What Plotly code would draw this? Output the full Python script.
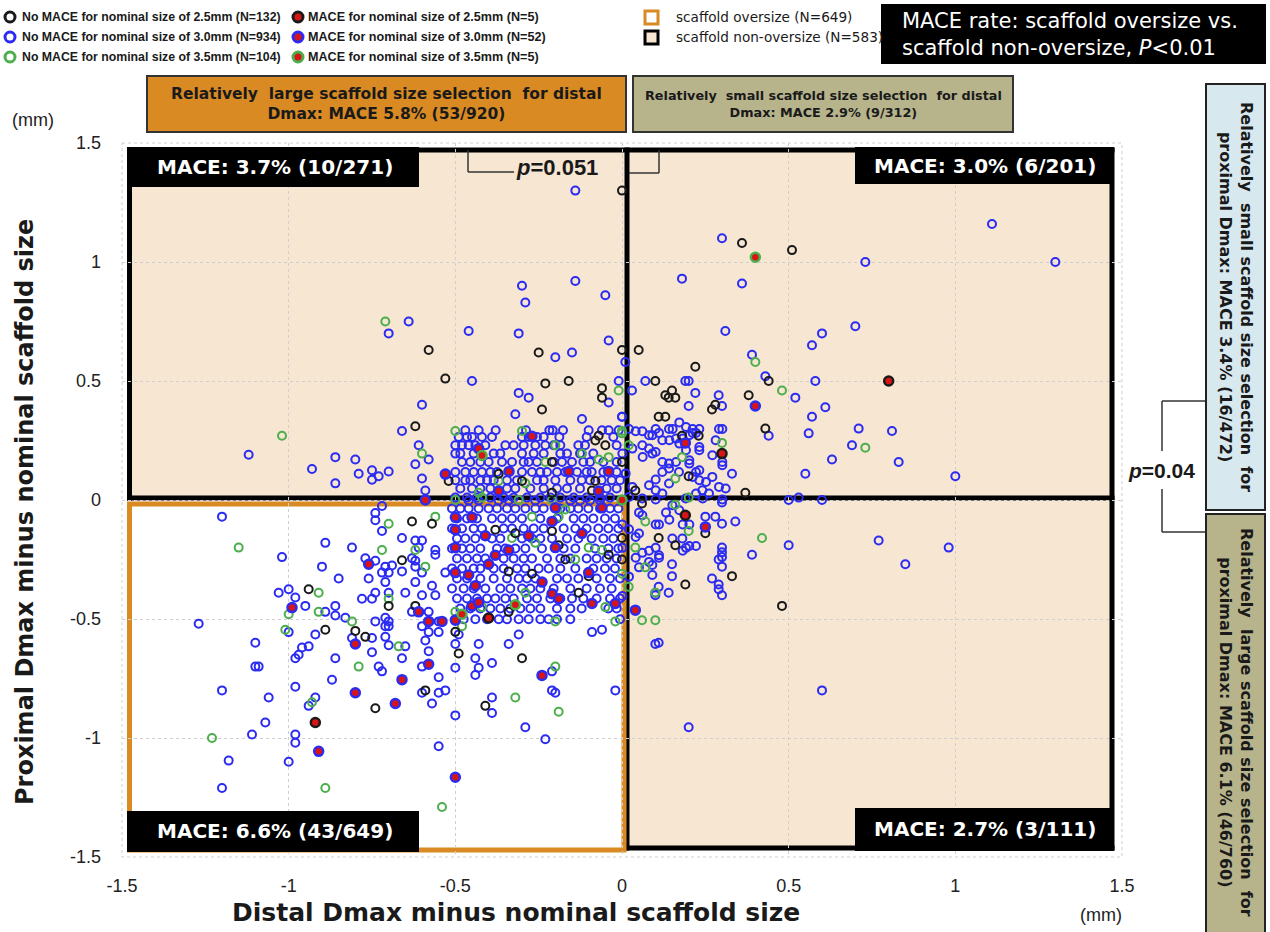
import plotly.graph_objects as go

# ---------------- data ----------------
NO_MACE_30 = [
    # upper-left sparse
    (-0.14,1.30),(-0.30,0.90),(-0.14,0.92),(-0.29,0.83),(-0.05,0.86),(-0.64,0.75),(-0.70,0.70),(-0.46,0.71),
    (-0.31,0.70),(-0.04,0.67),(-0.20,0.60),(-0.15,0.62),(-0.45,0.50),(-0.01,0.50),(-0.31,0.45),(-0.28,0.43),
    (-0.04,0.41),(-0.60,0.40),(-0.32,0.36),(-0.12,0.34),(0.0,0.35),(-0.66,0.29),(-1.12,0.19),(-0.93,0.13),
    (-0.86,0.18),(-0.80,0.17),(-0.86,0.07),(-0.79,0.11),(-0.75,0.125),(-0.75,0.085),(-0.73,0.10),(-0.70,0.12),
    (-0.61,0.23),(-0.62,0.15),(-0.58,0.17),(-0.60,0.09),(-0.59,0.04),
    # upper-left cluster
    (-0.470,0.293),(-0.430,0.293),(-0.379,0.293),(-0.288,0.293),(-0.218,0.293),(-0.208,0.293),(-0.177,0.293),
    (-0.100,0.293),(-0.060,0.293),(-0.040,0.293),(-0.010,0.293),
    (-0.490,0.265),(-0.465,0.265),(-0.450,0.265),(-0.420,0.265),(-0.390,0.265),(-0.300,0.265),(-0.280,0.265),
    (-0.255,0.265),(-0.235,0.265),(-0.188,0.265),(-0.106,0.265),(-0.026,0.265),
    (-0.500,0.230),(-0.480,0.230),(-0.460,0.230),(-0.440,0.230),(-0.410,0.230),(-0.350,0.230),(-0.325,0.230),
    (-0.295,0.230),(-0.260,0.230),(-0.230,0.230),(-0.205,0.230),(-0.185,0.230),(-0.131,0.230),(-0.111,0.230),
    (-0.016,0.230),
    (-0.500,0.195),(-0.485,0.195),(-0.445,0.195),(-0.385,0.195),(-0.365,0.195),(-0.300,0.195),(-0.265,0.195),
    (-0.235,0.195),(-0.185,0.195),(-0.165,0.195),(-0.126,0.195),(-0.086,0.195),
    (-0.480,0.160),(-0.455,0.160),(-0.425,0.160),(-0.400,0.160),(-0.360,0.160),(-0.330,0.160),(-0.295,0.160),
    (-0.280,0.160),(-0.255,0.160),(-0.205,0.160),(-0.180,0.160),(-0.150,0.160),(-0.116,0.160),(-0.096,0.160),
    (-0.056,0.160),(-0.016,0.160),
    (-0.500,0.118),(-0.470,0.118),(-0.445,0.118),(-0.420,0.118),(-0.395,0.118),(-0.375,0.118),(-0.300,0.118),
    (-0.270,0.118),(-0.245,0.118),(-0.225,0.118),(-0.195,0.118),(-0.170,0.118),(-0.135,0.118),(-0.106,0.118),
    (-0.091,0.118),(-0.056,0.118),(-0.016,0.118),
    (-0.500,0.083),(-0.470,0.083),(-0.455,0.083),(-0.425,0.083),(-0.405,0.083),(-0.385,0.083),(-0.345,0.083),
    (-0.315,0.083),(-0.255,0.083),(-0.235,0.083),(-0.200,0.083),(-0.155,0.083),(-0.121,0.083),(-0.096,0.083),
    (-0.061,0.083),(-0.031,0.083),(-0.006,0.083),
    (-0.485,0.048),(-0.450,0.048),(-0.425,0.048),(-0.395,0.048),(-0.345,0.048),(-0.320,0.048),(-0.275,0.048),
    (-0.235,0.048),(-0.195,0.048),(-0.165,0.048),(-0.126,0.048),(-0.046,0.048),(-0.016,0.048),
    (-0.500,0.010),(-0.465,0.010),(-0.435,0.010),(-0.395,0.010),(-0.355,0.010),(-0.325,0.010),(-0.285,0.010),
    (-0.245,0.010),(-0.215,0.010),(-0.185,0.010),(-0.145,0.010),(-0.106,0.010),(-0.066,0.010),(-0.036,0.010),
    # upper-right sparse
    (1.11,1.16),(1.30,1.00),(0.73,1.00),(0.30,1.10),(0.18,0.93),(0.36,0.91),(0.31,0.71),(0.70,0.73),(0.60,0.70),
    (0.57,0.65),(0.01,0.58),(0.39,0.61),(0.43,0.52),(0.58,0.50),(0.07,0.50),(0.19,0.50),(0.20,0.50),(0.52,0.43),
    (0.03,0.46),(0.22,0.45),(0.20,0.395),(0.29,0.44),(0.30,0.395),(0.61,0.39),(0.57,0.35),(0.0,0.35),(0.44,0.27),
    (0.56,0.28),(0.71,0.30),(0.81,0.29),(0.69,0.23),(0.63,0.17),(0.83,0.16),(0.55,0.11),(1.00,0.10),(0.33,0.11),
    # upper-right cluster
    (0.021,0.298),(0.041,0.289),(0.061,0.289),(0.081,0.272),(0.101,0.298),(0.111,0.282),(0.141,0.298),(0.152,0.298),
    (0.172,0.326),(0.192,0.307),(0.212,0.298),(0.232,0.298),(0.212,0.282),(0.222,0.282),(0.202,0.272),(0.182,0.258),
    (0.142,0.251),(0.162,0.258),(0.121,0.251),(0.091,0.272),(0.061,0.230),(0.081,0.216),(0.101,0.202),(0.091,0.195),
    (0.062,0.181),(0.031,0.216),(0.001,0.195),(0.121,0.160),(0.141,0.153),(0.162,0.160),(0.141,0.132),(0.121,0.118),
    (0.171,0.118),(0.222,0.118),(0.232,0.125),(0.212,0.097),(0.232,0.083),(0.252,0.076),(0.271,0.097),(0.281,0.251),
    (0.291,0.298),(0.301,0.298),(0.271,0.188),(0.301,0.160),(0.301,0.146),(0.101,0.086),(0.081,0.062),(0.101,0.041),
    (0.121,0.027),(0.141,0.069),(0.031,0.055),(0.011,0.111),(0.021,0.013),(0.241,0.041),(0.261,0.027),(0.291,0.055),
    (0.311,0.048),(0.222,0.027),(0.191,0.006),(0.242,0.006),(0.301,0.002),(0.061,0.006),(0.101,0.002),(0.202,0.167),
    (0.202,0.153),(0.232,0.209),(0.232,0.223),(0.172,0.237),(0.192,0.209),
    # lower-left sparse
    (-1.20,-0.07),(-1.02,-0.24),(-1.27,-0.52),(-1.03,-0.39),(-1.0,-0.375),(-0.98,-0.41),(-0.95,-0.445),(-0.89,-0.47),
    (-1.0,-0.555),(-0.92,-0.565),(-1.10,-0.60),(-1.10,-0.70),(-1.09,-0.70),(-0.98,-0.665),(-0.97,-0.65),(-0.96,-0.62),
    (-0.94,-0.615),(-0.86,-0.665),(-1.20,-0.80),(-1.06,-0.83),(-0.98,-0.785),(-0.92,-0.83),(-0.94,-0.865),(-0.87,-0.755),
    (-1.07,-0.935),(-1.11,-0.985),(-0.98,-0.985),(-0.98,-1.02),(-1.18,-1.095),(-1.0,-1.10),(-1.20,-1.21),(-0.55,-1.035),
    (-0.23,-1.005),(-0.29,-0.955),(-0.39,-0.895),(-0.50,-0.905),(-0.39,-0.83),(-0.21,-0.80),(-0.20,-0.81),(-0.02,-0.80),
    (-0.21,-0.72),(-0.44,-0.665),(-0.44,-0.735),(-0.43,-0.705),(-0.39,-0.685),(-0.50,-0.705),(-0.31,-0.565),(-0.34,-0.605),
    (-0.43,-0.605),(-0.09,-0.555),(-0.06,-0.545),(-0.55,-0.745),(-0.53,-0.80),(-0.55,-0.81),(-0.57,-0.855),(-0.60,-0.81),
    (-0.73,-0.70),(-0.72,-0.72),(-0.60,-0.70),(-0.81,-0.58),(-0.75,-0.64),(-0.70,-0.61),(-0.66,-0.665),(-0.58,-0.635),
    (-0.50,-0.605),(-0.49,-0.565),
    (-0.89,-0.18),(-0.81,-0.20),(-0.90,-0.28),(-0.85,-0.33),(-0.77,-0.245),(-0.74,-0.255),(-0.76,-0.33),(-0.71,-0.28),
    (-0.72,-0.305),(-0.70,-0.305),(-0.71,-0.345),(-0.74,-0.39),(-0.78,-0.415),(-0.75,-0.415),(-0.70,-0.39),(-0.86,-0.445),
    (-0.83,-0.495),(-0.86,-0.485),(-0.74,-0.51),(-0.71,-0.495),(-0.70,-0.51),(-0.71,-0.53),(-0.70,-0.53),(-0.75,-0.58),
    (-0.71,-0.575),(-0.65,-0.615),(-0.66,-0.16),(-0.72,-0.13),(-0.74,-0.055),(-0.74,-0.085),(-0.72,-0.025),(-0.69,-0.275),
    (-0.66,-0.30),(-0.63,-0.245),(-0.62,-0.28),(-0.60,-0.305),(-0.62,-0.345),(-0.60,-0.40),(-0.57,-0.36),(-0.56,-0.40),
    (-0.65,-0.39),(-0.63,-0.47),(-0.58,-0.47),(-0.60,-0.53),(-0.58,-0.555),(-0.55,-0.555),(-0.59,-0.59),(-0.55,-0.51),
    (-0.62,-0.17),(-0.60,-0.17),(-0.61,-0.20),(-0.56,-0.21),(-0.56,-0.23),(-0.53,-0.305),(-0.62,-0.255),
    # lower-left cluster
    (-0.460,-0.002),(-0.430,-0.002),(-0.370,-0.002),(-0.340,-0.002),(-0.260,-0.002),(-0.155,-0.002),(-0.126,-0.002),
    (-0.096,-0.002),(-0.066,-0.002),
    (-0.510,-0.036),(-0.485,-0.036),(-0.460,-0.036),(-0.430,-0.036),(-0.400,-0.036),(-0.375,-0.036),(-0.345,-0.036),
    (-0.320,-0.036),(-0.290,-0.036),(-0.260,-0.036),(-0.235,-0.036),(-0.185,-0.036),(-0.155,-0.036),(-0.131,-0.036),
    (-0.101,-0.036),(-0.066,-0.036),(-0.036,-0.036),(-0.011,-0.036),
    (-0.495,-0.078),(-0.465,-0.078),(-0.435,-0.078),(-0.390,-0.078),(-0.360,-0.078),(-0.330,-0.078),(-0.300,-0.078),
    (-0.245,-0.078),(-0.195,-0.078),(-0.145,-0.078),(-0.116,-0.078),(-0.086,-0.078),(-0.051,-0.078),(-0.021,-0.078),
    (-0.510,-0.120),(-0.480,-0.120),(-0.445,-0.120),(-0.420,-0.120),(-0.355,-0.120),(-0.330,-0.120),(-0.295,-0.120),
    (-0.265,-0.120),(-0.235,-0.120),(-0.175,-0.120),(-0.140,-0.120),(-0.106,-0.120),(-0.071,-0.120),(-0.041,-0.120),
    (-0.011,-0.120),
    (-0.495,-0.162),(-0.470,-0.162),(-0.440,-0.162),(-0.390,-0.162),(-0.365,-0.162),(-0.300,-0.162),(-0.270,-0.162),
    (-0.245,-0.162),(-0.210,-0.162),(-0.165,-0.162),(-0.131,-0.162),(-0.091,-0.162),(-0.056,-0.162),(-0.026,-0.162),
    (-0.510,-0.204),(-0.480,-0.204),(-0.455,-0.204),(-0.425,-0.204),(-0.375,-0.204),(-0.350,-0.204),(-0.320,-0.204),
    (-0.290,-0.204),(-0.240,-0.204),(-0.175,-0.204),(-0.140,-0.204),(-0.081,-0.204),(-0.041,-0.204),(-0.011,-0.204),
    (-0.495,-0.246),(-0.465,-0.246),(-0.435,-0.246),(-0.410,-0.246),(-0.355,-0.246),(-0.325,-0.246),(-0.295,-0.246),
    (-0.270,-0.246),(-0.225,-0.246),(-0.185,-0.246),(-0.155,-0.246),(-0.106,-0.246),(-0.076,-0.246),(-0.046,-0.246),
    (-0.016,-0.246),
    (-0.510,-0.288),(-0.480,-0.288),(-0.445,-0.288),(-0.425,-0.288),(-0.385,-0.288),(-0.355,-0.288),(-0.315,-0.288),
    (-0.290,-0.288),(-0.250,-0.288),(-0.220,-0.288),(-0.185,-0.288),(-0.140,-0.288),(-0.086,-0.288),(-0.051,-0.288),
    (-0.021,-0.288),
    (-0.495,-0.330),(-0.465,-0.330),(-0.425,-0.330),(-0.385,-0.330),(-0.345,-0.330),(-0.310,-0.330),(-0.285,-0.330),
    (-0.260,-0.330),(-0.195,-0.330),(-0.165,-0.330),(-0.131,-0.330),(-0.076,-0.330),(-0.036,-0.330),(-0.006,-0.330),
    (-0.510,-0.372),(-0.475,-0.372),(-0.445,-0.372),(-0.410,-0.372),(-0.365,-0.372),(-0.335,-0.372),(-0.300,-0.372),
    (-0.275,-0.372),(-0.245,-0.372),(-0.205,-0.372),(-0.155,-0.372),(-0.106,-0.372),(-0.066,-0.372),(-0.031,-0.372),
    (-0.495,-0.414),(-0.465,-0.414),(-0.435,-0.414),(-0.405,-0.414),(-0.380,-0.414),(-0.350,-0.414),(-0.325,-0.414),
    (-0.285,-0.414),(-0.255,-0.414),(-0.215,-0.414),(-0.185,-0.414),(-0.150,-0.414),(-0.116,-0.414),(-0.076,-0.414),
    (-0.036,-0.414),(-0.006,-0.414),
    (-0.485,-0.456),(-0.455,-0.456),(-0.425,-0.456),(-0.395,-0.456),(-0.365,-0.456),(-0.335,-0.456),(-0.305,-0.456),
    (-0.275,-0.456),(-0.245,-0.456),(-0.195,-0.456),(-0.155,-0.456),(-0.121,-0.456),(-0.041,-0.456),(-0.016,-0.456),
    (-0.500,-0.501),(-0.475,-0.501),(-0.440,-0.501),(-0.405,-0.501),(-0.370,-0.501),(-0.345,-0.501),(-0.310,-0.501),
    (-0.280,-0.501),(-0.245,-0.501),(-0.220,-0.501),(-0.195,-0.501),(-0.155,-0.501),(-0.006,-0.501),
    # lower-right
    (0.77,-0.17),(0.98,-0.20),(0.85,-0.27),(0.50,-0.19),(0.39,-0.23),(0.60,-0.80),(0.20,-0.955),(0.10,-0.605),
    (0.11,-0.60),(0.34,-0.09),(0.30,-0.10),(0.28,-0.07),(0.25,-0.07),(0.30,-0.20),(0.30,-0.22),(0.30,-0.24),
    (0.29,-0.25),(0.30,-0.28),(0.27,-0.33),(0.29,-0.355),(0.29,-0.375),(0.30,-0.40),(0.15,-0.27),(0.15,-0.32),
    (0.14,-0.39),(0.11,-0.365),(0.10,-0.40),(0.10,-0.39),
    (0.091,-0.315),(0.081,-0.26),(0.091,-0.273),(0.111,-0.243),(0.111,-0.232),(0.051,-0.283),(0.061,-0.222),
    (0.081,-0.213),(0.101,-0.201),(0.151,-0.162),(0.181,-0.162),(0.182,-0.213),(0.192,-0.201),(0.202,-0.193),
    (0.222,-0.193),(0.182,-0.103),(0.202,-0.103),(0.142,-0.083),(0.132,-0.053),(0.172,-0.043),(0.151,-0.022),
    (0.051,-0.053),(0.061,-0.064),(0.111,-0.103),(0.101,-0.103),(0.001,-0.103),(0.021,-0.123),(0.001,-0.201),
    (0.051,-0.141),(0.041,-0.155),(0.041,-0.243),(0.021,-0.322),(0.001,-0.403),
    (0.50,0.0),(0.53,0.01),(0.60,0.0),(0.30,-0.01),
]

NO_MACE_25 = [
    (0.0,1.30),(-0.58,0.63),(-0.25,0.62),(0.0,0.63),(-0.53,0.51),(-0.23,0.49),(-0.16,0.50),(-0.06,0.47),
    (-0.06,0.43),(-0.24,0.38),(-0.62,0.31),(0.36,1.08),(0.51,1.05),(0.05,0.63),(0.22,0.56),(0.44,0.50),
    (0.10,0.50),(0.15,0.46),(0.13,0.44),(0.14,0.43),(0.16,0.43),(0.38,0.44),(0.28,0.40),(0.27,0.38),
    (0.11,0.35),(0.13,0.35),(0.43,0.30),(0.37,0.03),
    (-0.07,0.27),(-0.08,0.25),(-0.05,0.23),(-0.21,0.16),(-0.37,0.11),(-0.52,0.08),(-0.30,0.08),(-0.08,0.08),
    (-0.21,0.03),(-0.09,0.04),(0.0,0.16),(0.20,0.10),(0.04,0.04),(0.23,0.27),(0.18,0.27),
    (-0.94,-0.375),(-0.89,-0.545),(-0.80,-0.55),(-0.77,-0.575),(-0.74,-0.875),(-0.59,-0.80),(-0.41,-0.865),
    (-0.30,-0.665),(-0.49,-0.645),(-0.50,-0.554),(-0.34,-0.47),(-0.13,-0.39),(-0.38,-0.125),(-0.32,-0.14),
    (-0.21,-0.13),(-0.19,-0.19),(-0.17,-0.25),(-0.34,-0.30),(-0.10,-0.32),(-0.27,-0.31),(-0.04,-0.23),
    (0.0,-0.16),(-0.66,-0.253),(-0.63,-0.09),(-0.57,-0.10),(-0.70,-0.445),(-0.62,-0.445),(0.48,-0.445),
    (0.33,-0.32),(0.19,-0.355),(0.25,-0.14),(0.11,-0.16),(0.16,-0.19),(0.06,-0.015),(0.0,-0.25),
]

NO_MACE_35 = [
    (-0.71,0.75),(-1.02,0.27),(-0.60,0.195),(-0.01,0.46),(0.40,0.58),(0.48,0.46),(0.73,0.22),(-0.50,0.29),
    (-0.30,0.29),(-0.20,0.23),(-0.23,0.16),(-0.12,0.195),(-0.07,0.17),(-0.04,0.18),(0.0,0.28),(-0.37,0.08),
    (-0.29,0.07),(-0.43,0.03),(-0.42,0.01),(0.0,0.29),(0.30,0.24),(0.18,0.18),(0.16,0.09),(0.20,0.01),(0.02,0.23),
    (-1.15,-0.20),(-0.91,-0.39),(-1.0,-0.48),(-1.01,-0.545),(-0.91,-0.47),(-1.23,-1.0),(-0.93,-0.85),(-0.89,-1.21),
    (-0.54,-1.29),(-0.19,-0.89),(-0.32,-0.83),(-0.20,-0.70),(-0.79,-0.70),(-0.67,-0.615),(-0.48,-0.53),(-0.70,-0.10),
    (-0.56,-0.07),(-0.72,-0.21),(-0.62,-0.21),(-0.59,-0.28),(-0.70,-0.415),(-0.81,-0.51),(-0.33,-0.16),(-0.26,-0.18),
    (-0.10,-0.20),(-0.06,-0.21),(-0.19,-0.07),(-0.17,-0.04),(-0.31,0.0),(-0.21,0.0),(-0.50,0.0),(-0.27,-0.07),
    (-0.02,-0.51),(-0.05,-0.45),(-0.20,-0.51),(-0.29,-0.39),(-0.50,-0.47),(-0.42,-0.45),(-0.14,-0.25),(0.0,-0.31),
    (0.42,-0.16),(0.06,-0.505),(0.10,-0.505),(0.04,-0.20),(0.07,-0.09),(0.02,-0.365),(0.07,-0.283),(0.10,-0.39),
    (0.16,-0.02),(0.20,-0.13),
]

MACE_25 = [(0.80,0.50),(0.30,0.195),(-0.92,-0.935),(-0.40,-0.496),(0.19,-0.064)]

MACE_35 = [(0.40,1.02),(-0.42,0.187),(-0.32,-0.44),(-0.48,-0.48),(0.0,0.0)]

MACE_30 = [
    (-0.53,0.109),(-0.27,0.268),(-0.43,0.216),(-0.339,0.12),(-0.16,0.12),(-0.04,0.12),(-0.37,0.038),(-0.07,0.038),
    (0.40,0.395),(0.19,0.24),
    (-0.99,-0.452),(-0.91,-1.056),(-0.50,-1.165),(-0.24,-0.737),(-0.68,-0.855),(-0.80,-0.81),(-0.66,-0.755),
    (-0.58,-0.69),(-0.80,-0.605),(-0.19,-0.415),(-0.09,-0.435),(-0.02,-0.435),(-0.21,-0.394),(-0.24,-0.345),
    (-0.10,-0.305),(-0.44,-0.36),(-0.45,-0.445),(-0.43,-0.43),(-0.46,-0.315),(-0.50,-0.305),(-0.40,-0.27),
    (-0.38,-0.232),(-0.34,-0.21),(-0.50,-0.20),(-0.41,-0.15),(-0.50,-0.125),(-0.50,-0.073),(-0.45,-0.073),
    (-0.20,-0.20),(-0.21,-0.09),(-0.12,-0.14),(-0.20,-0.033),(-0.06,-0.033),(-0.76,-0.27),(-0.61,-0.47),
    (-0.58,-0.51),(-0.54,-0.51),(-0.50,-0.505),(-0.59,0.0),(0.25,-0.113),(0.04,-0.463),(-0.28,-0.15),
]

TICK_VALS = [-1.5, -1, -0.5, 0, 0.5, 1, 1.5]
TICK_TEXT = ["-1.5", "-1", "-0.5", "0", "0.5", "1", "1.5"]

LEGEND_NO_MACE = ["No MACE for nominal size of 2.5mm (N=132)",
                  "No MACE for nominal size of 3.0mm (N=934)",
                  "No MACE for nominal size of 3.5mm (N=104)"]
LEGEND_MACE = ["MACE for nominal size of 2.5mm (N=5)",
               "MACE for nominal size of 3.0mm (N=52)",
               "MACE for nominal size of 3.5mm (N=5)"]
LEGEND_SIZE = ["scaffold oversize (N=649)", "scaffold non-oversize (N=583)"]

QUAD_LABELS = ["MACE: 3.7% (10/271)", "MACE: 3.0% (6/201)", "MACE: 6.6% (43/649)", "MACE: 2.7% (3/111)"]

# ---------------- styling ----------------
W, H = 1270, 932
L, R, T, B = 122, 1122, 143, 857
BLACK = "#1a1a1a"
BLUE = "#2b2bf2"
GREEN = "#4cae4c"
RED = "#d81414"
ORANGE = "#d98a22"
BEIGE = "#f6e6d2"
OLIVE = "#b7b48c"
LBLUE = "#d8e8ef"
FONT = "Liberation Sans, Arial, sans-serif"
WIDE = "DejaVu Sans, Verdana, sans-serif"


def px(x):
    return (x - L) / (R - L)


def py(y):
    return (B - y) / (B - T)


def xs(pts):
    return [p[0] for p in pts]


def ys(pts):
    return [p[1] for p in pts]


fig = go.Figure()


def open_trace(pts, color, name):
    fig.add_trace(go.Scatter(
        x=xs(pts), y=ys(pts), mode="markers", name=name,
        marker=dict(symbol="circle", size=8, color="rgba(0,0,0,0)", line=dict(color=color, width=2)),
        showlegend=False, hoverinfo="skip"))


def mace_trace(pts, color, name):
    fig.add_trace(go.Scatter(
        x=xs(pts), y=ys(pts), mode="markers", name=name,
        marker=dict(symbol="circle", size=9, color=RED, line=dict(color=color, width=2.5)),
        showlegend=False, hoverinfo="skip"))


open_trace(NO_MACE_30, BLUE, LEGEND_NO_MACE[1])
open_trace(NO_MACE_35, GREEN, LEGEND_NO_MACE[2])
open_trace(NO_MACE_25, BLACK, LEGEND_NO_MACE[0])
mace_trace(MACE_30, BLUE, LEGEND_MACE[1])
mace_trace(MACE_35, GREEN, LEGEND_MACE[2])
mace_trace(MACE_25, BLACK, LEGEND_MACE[0])

shapes = []


def rect(x0, y0, x1, y1, fill=None, line=None, lw=0, layer="above", dash=None):
    d = dict(type="rect", xref="paper", yref="paper", x0=px(x0), x1=px(x1), y0=py(y0), y1=py(y1),
             layer=layer, line=dict(width=lw, color=line or "rgba(0,0,0,0)"))
    if dash:
        d["line"]["dash"] = dash
    if fill:
        d["fillcolor"] = fill
    shapes.append(d)


def seg(x0, y0, x1, y1, color, lw, layer="above"):
    shapes.append(dict(type="line", xref="paper", yref="paper", x0=px(x0), x1=px(x1), y0=py(y0), y1=py(y1),
                       layer=layer, line=dict(color=color, width=lw)))


def circ(cx, cy, r, color, lw, fill="white"):
    shapes.append(dict(type="circle", xref="paper", yref="paper", x0=px(cx - r), x1=px(cx + r),
                       y0=py(cy + r), y1=py(cy - r), fillcolor=fill, line=dict(color=color, width=lw)))


# quadrant backgrounds
rect(129.5, 150, 1112, 498, fill=BEIGE, layer="below")
rect(627, 498, 1112, 848, fill=BEIGE, layer="below")
rect(L, T, R, B, line="#cfcfcf", lw=1, layer="below", dash="dot")
# black frame of non-oversize region
seg(127, 150, 1114.5, 150, "black", 5, "below")
seg(129.5, 147.5, 129.5, 500.5, "black", 5, "below")
seg(1112, 147.5, 1112, 850.5, "black", 5, "below")
seg(127, 498, 1114.5, 498, "black", 5, "below")
seg(627, 147.5, 627, 850.5, "black", 5, "below")
seg(624.5, 848, 1114.5, 848, "black", 5, "below")
# orange oversize frame
rect(129.5, 504, 624, 850, line=ORANGE, lw=5, layer="below")

# quadrant label boxes
rect(127, 147, 419, 187, fill="black")
rect(855, 147, 1114, 184, fill="black")
rect(127, 811, 419, 852, fill="black")
rect(855, 808, 1114, 851, fill="black")

# p=0.051 bracket
seg(468, 150, 468, 172, "#333", 1.5)
seg(468, 172, 514, 172, "#333", 1.5)
seg(659, 150, 659, 173, "#333", 1.5)
seg(629, 173, 659, 173, "#333", 1.5)
# p=0.04 bracket
seg(1162, 401, 1206, 401, "#333", 1.5)
seg(1162, 401, 1162, 451, "#333", 1.5)
seg(1162, 489, 1162, 532, "#333", 1.5)
seg(1162, 532, 1206, 532, "#333", 1.5)

# header boxes
rect(147, 76, 626, 132, fill=ORANGE, line="#333", lw=2)
rect(633, 76, 1013, 132, fill=OLIVE, line="#333", lw=2)
rect(1206, 84, 1265, 510, fill=LBLUE, line="#222", lw=2)
rect(1206, 514, 1265, 945, fill=OLIVE, line="#222", lw=2)
rect(881, 4, 1266, 64, fill="black")

# legend symbols
for i, c in enumerate([BLACK, BLUE, GREEN]):
    circ(10, 17 + 20 * i, 5, c, 3)
    circ(298, 17 + 20 * i, 5, c, 3, fill=RED)
rect(645, 11, 658, 24, fill="white", line=ORANGE, lw=3)
rect(645, 31, 658, 44, fill=BEIGE, line="black", lw=3)

ann = []


def text(x, y, s, size, color="#1a1a1a", bold=False, family=FONT, xa="center", ya="middle", angle=0, align="center"):
    if bold:
        s = "<b>" + s + "</b>"
    ann.append(dict(x=px(x), y=py(y), xref="paper", yref="paper", text=s, showarrow=False,
                    xanchor=xa, yanchor=ya, textangle=angle, align=align,
                    font=dict(size=size, color=color, family=family)))


for i in range(3):
    text(20, 17 + 20 * i, LEGEND_NO_MACE[i], 12.3, bold=True, xa="left")
    text(306, 17 + 20 * i, LEGEND_MACE[i], 12.6, bold=True, xa="left")
text(674, 17, LEGEND_SIZE[0], 13.6, family=WIDE, xa="left")
text(674, 37, LEGEND_SIZE[1], 13.6, family=WIDE, xa="left")
text(900, 34, "MACE rate: scaffold oversize vs.<br>scaffold non-oversize, <i>P</i>&lt;0.01", 21,
     color="white", family=WIDE, xa="left", align="left")

text(386, 104, "Relatively  large scaffold size selection  for distal<br>Dmax: MACE 5.8% (53/920)", 15.5,
     bold=True, family=WIDE)
text(823, 104, "Relatively  small scaffold size selection  for distal<br>Dmax: MACE 2.9% (9/312)", 12.8,
     bold=True, family=WIDE)
text(1236, 297, "Relatively  small scaffold size selection  for<br>proximal Dmax: MACE 3.4% (16/472)", 16,
     bold=True, family=WIDE, angle=90)
text(1236, 722, "Relatively  large scaffold size selection  for<br>proximal Dmax: MACE 6.1% (46/760)", 16,
     bold=True, family=WIDE, angle=90)

text(275, 167, QUAD_LABELS[0], 20, color="white", bold=True, family=WIDE)
text(985, 166, QUAD_LABELS[1], 20, color="white", bold=True, family=WIDE)
text(275, 831, QUAD_LABELS[2], 20, color="white", bold=True, family=WIDE)
text(985, 829, QUAD_LABELS[3], 20, color="white", bold=True, family=WIDE)

text(514, 167, "<i>p</i>=0.051", 22, bold=True, xa="left")
text(1161, 470, "<i>p</i>=0.04", 21, bold=True)

text(25, 512, "Proximal Dmax minus nominal scaffold size", 24, bold=True, family=WIDE, angle=-90)
text(516, 912, "Distal Dmax minus nominal scaffold size", 25, bold=True, family=WIDE)
text(33, 120, "(mm)", 18, color="#222")
text(1101, 915, "(mm)", 18, color="#222")

axis_common = dict(range=[-1.5, 1.5], tickvals=TICK_VALS, ticktext=TICK_TEXT, showgrid=True,
                   gridcolor="#cfcfcf", griddash="dot", gridwidth=1, zeroline=False, showline=False,
                   ticks="", tickfont=dict(size=18, color="#222", family=FONT))

fig.update_layout(
    width=W, height=H, margin=dict(l=L, r=W - R, t=T, b=H - B, pad=0),
    paper_bgcolor="white", plot_bgcolor="white",
    xaxis=dict(**axis_common, ticklabelstandoff=16, automargin=False),
    yaxis=dict(**axis_common, ticklabelstandoff=20, automargin=False),
    shapes=shapes, annotations=ann, showlegend=False,
)

fig.write_html("out.html", config={"displayModeBar": False},
               post_script="document.body.style.margin='0';document.body.style.padding='0';")
